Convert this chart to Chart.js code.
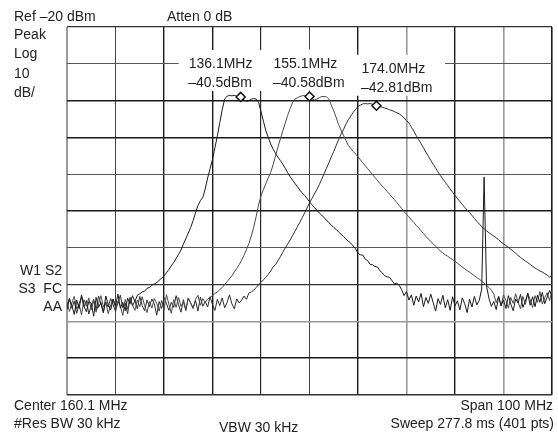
<!DOCTYPE html>
<html>
<head>
<meta charset="utf-8">
<script src="https://cdn.jsdelivr.net/npm/chart.js@4.4.0/dist/chart.umd.min.js"></script>
<style>
  html, body { margin: 0; padding: 0; background: #fff; }
</style>
</head>
<body>
<canvas id="chart" width="558" height="436"></canvas>
<script>
// sweep points, 0.5 MHz apart (center 160.1 MHz, span 100 MHz)
const sweepMHz = [
  110.1,110.6,111.1,111.6,112.1,112.6,113.1,113.6,114.1,114.6,
  115.1,115.6,116.1,116.6,117.1,117.6,118.1,118.6,119.1,119.6,
  120.1,120.6,121.1,121.6,122.1,122.6,123.1,123.6,124.1,124.6,
  125.1,125.6,126.1,126.6,127.1,127.6,128.1,128.6,129.1,129.6,
  130.1,130.6,131.1,131.6,132.1,132.6,133.1,133.6,134.1,134.6,
  135.1,135.6,136.1,136.6,137.1,137.6,138.1,138.6,139.1,139.6,
  140.1,140.6,141.1,141.6,142.1,142.6,143.1,143.6,144.1,144.6,
  145.1,145.6,146.1,146.6,147.1,147.6,148.1,148.6,149.1,149.6,
  150.1,150.6,151.1,151.6,152.1,152.6,153.1,153.6,154.1,154.6,
  155.1,155.6,156.1,156.6,157.1,157.6,158.1,158.6,159.1,159.6,
  160.1,160.6,161.1,161.6,162.1,162.6,163.1,163.6,164.1,164.6,
  165.1,165.6,166.1,166.6,167.1,167.6,168.1,168.6,169.1,169.6,
  170.1,170.6,171.1,171.6,172.1,172.6,173.1,173.6,174.1,174.6,
  175.1,175.6,176.1,176.6,177.1,177.6,178.1,178.6,179.1,179.6,
  180.1,180.6,181.1,181.6,182.1,182.6,183.1,183.6,184.1,184.6,
  185.1,185.6,186.1,186.6,187.1,187.6,188.1,188.6,189.1,189.6,
  190.1,190.6,191.1,191.6,192.1,192.6,193.1,193.6,194.1,194.6,
  195.1,195.6,196.1,196.6,197.1,197.6,198.1,198.6,199.1,199.6,
  200.1,200.6,201.1,201.6,202.1,202.6,203.1,203.6,204.1,204.6,
  205.1,205.6,206.1,206.6,207.1,207.6,208.1,208.6,209.1,209.6,
  210.1
];

// dBm, left filter
const traceA = [
  -96.8,-93.9,-95.7,-98.1,-94.2,-96.5,-92.8,-95.9,-97.4,-94.6,
  -95.1,-98.6,-93.5,-96.2,-94.9,-97.7,-93.1,-95.4,-96.9,-94.0,
  -95.8,-92.6,-96.4,-94.8,-97.1,-93.7,-95.2,-93.0,-94.6,-92.9,
  -92.5,-92.0,-91.8,-91.0,-90.8,-90.2,-89.8,-89.5,-88.8,-88.3,
  -87.6,-86.8,-85.9,-84.9,-84.0,-82.9,-81.8,-80.6,-79.0,-77.5,
  -76.0,-74.5,-72.6,-70.5,-68.5,-67.2,-66.3,-64.0,-61.0,-58.5,
  -56.0,-52.8,-49.6,-46.0,-42.5,-39.6,-38.8,-38.6,-38.7,-38.6,
  -38.8,-39.2,-39.4,-39.8,-40.2,-40.0,-39.6,-39.4,-39.6,-40.5,
  -43.0,-45.6,-48.2,-50.0,-51.8,-53.2,-54.4,-55.4,-56.3,-57.3,
  -58.4,-59.6,-60.7,-61.6,-62.5,-63.4,-64.3,-65.1,-65.8,-66.6,
  -67.5,-68.3,-69.0,-69.8,-70.5,-71.1,-71.8,-72.5,-73.2,-73.8,
  -74.5,-75.0,-75.7,-76.3,-76.9,-77.6,-78.2,-78.7,-79.5,-80.3,
  -81.5,-81.9,-82.0,-83.1,-83.5,-84.5,-84.6,-85.1,-85.2,-86.2,
  -86.8,-87.6,-87.9,-88.0,-88.9,-89.8,-89.6,-90.2,-91.4,-93.0,
  -91.9,-94.2,-92.8,-95.6,-93.1,-94.7,-92.4,-96.0,-93.5,-95.1,
  -92.6,-94.9,-97.2,-93.8,-95.4,-92.9,-96.3,-94.1,-97.0,-93.3,
  -95.8,-94.4,-96.9,-93.6,-95.2,-97.6,-94.0,-96.1,-93.2,-95.5,
  -94.3,-91.2,-60.8,-90.4,-93.7,-95.9,-94.6,-96.8,-93.4,-95.7,
  -94.2,-96.5,-93.0,-95.3,-97.1,-93.9,-95.0,-92.7,-96.2,-94.5,
  -92.4,-95.6,-93.3,-96.0,-92.9,-94.8,-92.1,-95.2,-93.4,-91.6,
  -93.0
];

// dBm, middle filter
const traceB = [
  -94.7,-97.3,-95.0,-93.2,-96.6,-95.4,-98.2,-94.1,-95.9,-93.6,
  -96.8,-94.4,-97.5,-95.2,-93.0,-96.1,-94.8,-97.9,-95.6,-93.9,
  -96.3,-94.5,-95.8,-98.4,-94.0,-96.7,-93.4,-95.5,-97.0,-94.2,
  -96.0,-93.3,-95.7,-97.6,-94.6,-96.4,-93.8,-95.1,-97.2,-94.3,
  -96.9,-92.7,-95.3,-97.8,-94.1,-96.2,-93.5,-95.9,-94.7,-97.1,
  -93.6,-95.0,-96.5,-94.0,-92.9,-95.6,-93.8,-94.9,-93.9,-93.5,
  -93.0,-92.4,-92.0,-91.4,-90.8,-90.0,-89.2,-88.4,-87.6,-86.6,
  -85.6,-84.6,-83.4,-82.0,-80.5,-78.8,-76.8,-74.4,-71.5,-68.3,
  -65.9,-64.2,-62.5,-61.0,-59.5,-57.4,-55.0,-52.6,-50.4,-48.2,
  -46.1,-44.0,-42.2,-40.6,-39.6,-39.2,-38.9,-38.7,-38.6,-38.8,
  -39.1,-39.5,-39.8,-39.6,-39.2,-38.9,-38.9,-39.0,-39.6,-41.2,
  -42.8,-44.6,-46.5,-48.0,-49.4,-50.8,-52.2,-53.0,-53.8,-54.5,
  -55.3,-56.1,-56.9,-57.7,-58.5,-59.3,-60.1,-60.9,-61.7,-62.5,
  -63.2,-63.9,-64.7,-65.4,-66.2,-66.9,-67.7,-68.5,-69.3,-70.2,
  -70.9,-71.6,-72.4,-73.1,-73.9,-74.6,-75.4,-76.1,-76.9,-77.6,
  -78.3,-78.9,-79.6,-80.2,-80.9,-81.4,-81.9,-82.3,-82.8,-83.2,
  -83.7,-84.2,-84.7,-85.2,-85.7,-86.2,-86.6,-87.1,-87.6,-88.1,
  -88.5,-89.1,-89.6,-90.2,-90.8,-91.5,-92.6,-94.9,-93.1,-95.8,
  -92.8,-94.3,-96.4,-93.5,-95.1,-92.5,-94.7,-96.6,-93.2,-95.4,
  -92.3,-94.1,-96.2,-93.0,-94.8,-91.9,-95.3,-93.6,-92.2,-94.4,
  -91.5
];

// dBm, right filter
const traceC = [
  -95.9,-93.7,-96.4,-94.5,-97.8,-95.1,-93.4,-96.0,-94.3,-98.0,
  -95.6,-94.0,-96.9,-93.1,-95.3,-97.4,-94.7,-96.1,-93.8,-95.4,
  -97.3,-94.9,-92.9,-96.3,-95.0,-97.9,-93.6,-95.8,-94.4,-96.6,
  -93.2,-95.7,-97.1,-94.2,-96.0,-93.9,-95.2,-98.3,-94.6,-96.5,
  -93.5,-95.1,-97.0,-94.8,-96.2,-93.0,-95.5,-97.5,-94.1,-96.8,
  -93.7,-95.0,-96.4,-94.3,-97.2,-93.4,-95.9,-94.6,-96.1,-93.3,
  -95.4,-97.0,-94.0,-95.7,-93.6,-96.3,-94.9,-92.8,-95.2,-96.6,
  -93.9,-95.0,-94.2,-93.1,-94.0,-92.3,-92.0,-91.5,-90.8,-90.0,
  -89.4,-88.7,-88.0,-87.2,-86.3,-85.2,-84.6,-83.5,-82.4,-81.2,
  -80.0,-79.0,-77.9,-76.7,-75.5,-74.3,-73.1,-71.8,-70.5,-69.2,
  -67.8,-66.6,-65.4,-64.2,-62.9,-61.4,-59.9,-58.4,-56.9,-55.3,
  -53.8,-52.2,-50.6,-49.1,-47.9,-46.4,-45.2,-44.2,-43.2,-42.4,
  -41.6,-41.2,-40.9,-40.8,-40.9,-40.8,-41.0,-41.3,-41.5,-41.6,
  -41.8,-42.0,-42.2,-42.5,-42.7,-43.0,-43.3,-43.6,-44.1,-44.7,
  -45.4,-46.1,-47.2,-48.3,-49.5,-50.6,-51.7,-52.8,-54.0,-55.1,
  -56.2,-57.3,-58.3,-59.4,-60.4,-61.3,-62.2,-63.1,-64.0,-64.9,
  -65.8,-66.6,-67.4,-68.2,-69.0,-69.8,-70.4,-71.2,-72.0,-72.8,
  -73.5,-74.3,-74.8,-75.4,-75.9,-76.4,-76.8,-77.3,-77.8,-78.5,
  -78.9,-79.4,-79.9,-80.4,-80.9,-81.5,-82.1,-82.6,-83.1,-83.6,
  -84.0,-84.5,-85.0,-85.5,-85.9,-86.3,-86.6,-87.0,-87.4,-88.0,
  -87.5
];

const gridMHz = [110.1, 120.1, 130.1, 140.1, 150.1, 160.1, 170.1, 180.1, 190.1, 200.1, 210.1];

const markerMHz = [145.9, 160.1, 173.9];
const markerDbm = [-39.0, -38.9, -41.4];
const markerFreqText = ["136.1MHz", "155.1MHz", "174.0MHz"];
const markerLevelText = ["\u201340.5dBm", "\u201340.58dBm", "\u201342.81dBm"];

const FONT = '14px "Liberation Sans", Arial, sans-serif';
const INK = "#222";

// grid styling per tick index (the screen capture has uneven line weights)
const xGridColor = ["#9a9a9a", "#444", "#1a1a1a", "#1a1a1a", "#2a2a2a", "#444", "#1a1a1a", "#9a9a9a", "#1a1a1a", "#9a9a9a", "#1a1a1a"];
const xGridWidth = [2, 1, 1.4, 1.4, 1.2, 1, 1.4, 1.6, 1.4, 1.6, 1.6];
const yGridColor = ["#333", "#1a1a1a", "#999", "#333", "#555", "#1a1a1a", "#555", "#1a1a1a", "#1a1a1a", "#555", "#333"];
const yGridWidth = [1.4, 1.6, 1.6, 1.3, 1, 1.6, 1, 1.6, 1.6, 1, 1.3];

// where each marker readout sits relative to its diamond
const labelOffsets = [
  { dx: -52, dy1: -29, dy2: -10 },
  { dx: -36, dy1: -29, dy2: -10 },
  { dx: -15, dy1: -33, dy2: -14 }
];

const toPoints = (levels) => levels.map((v, i) => ({ x: sweepMHz[i], y: v }));

const screenText = {
  id: "screenText",
  beforeDatasetsDraw(chart) {
    const { ctx, scales: { x, y } } = chart;
    ctx.save();
    ctx.font = FONT;
    markerMHz.forEach((mhz, i) => {
      const px = x.getPixelForValue(mhz);
      const py = y.getPixelForValue(markerDbm[i]);
      const o = labelOffsets[i];
      const w = Math.max(
        ctx.measureText(markerFreqText[i]).width,
        ctx.measureText(markerLevelText[i]).width
      );
      ctx.fillStyle = "#fff";
      ctx.fillRect(px + o.dx - 10, py + o.dy1 - 18, w + 22, o.dy2 - o.dy1 + 22);
      ctx.fillStyle = INK;
      ctx.textAlign = "left";
      ctx.textBaseline = "alphabetic";
      ctx.fillText(markerFreqText[i], px + o.dx, py + o.dy1);
      ctx.fillText(markerLevelText[i], px + o.dx - 0.5, py + o.dy2);
    });
    ctx.restore();
  },
  afterDraw(chart) {
    const ctx = chart.ctx;
    ctx.save();
    ctx.font = FONT;
    ctx.fillStyle = INK;
    ctx.textBaseline = "alphabetic";
    ctx.textAlign = "left";
    ctx.fillText("Ref \u201320 dBm", 14, 21);
    ctx.fillText("Atten 0 dB", 167, 21);
    ctx.fillText("Peak", 14, 39);
    ctx.fillText("Log", 14, 58);
    ctx.fillText("10", 14, 78);
    ctx.fillText("dB/", 14, 97);
    ctx.fillText("Center 160.1 MHz", 14, 410);
    ctx.fillText("#Res BW 30 kHz", 14, 428);
    ctx.fillText("VBW 30 kHz", 219, 432);
    ctx.textAlign = "right";
    ctx.fillText("W1 S2", 62, 275);
    ctx.fillText("S3  FC", 62, 293);
    ctx.fillText("AA", 62, 311);
    ctx.fillText("Span 100 MHz", 553, 410);
    ctx.fillText("Sweep 277.8 ms (401 pts)", 554, 428);
    ctx.restore();
  }
};

new Chart(document.getElementById("chart"), {
  type: "line",
  data: {
    datasets: [
      {
        label: "markers",
        type: "scatter",
        data: markerMHz.map((v, i) => ({ x: v, y: markerDbm[i] })),
        pointStyle: "rectRot",
        pointRadius: 4.5,
        pointBorderWidth: 1.5,
        pointBackgroundColor: "#fff",
        pointBorderColor: "#111",
        order: 0
      },
      { label: "A", data: toPoints(traceA), borderColor: "#1a1a1a", borderWidth: 1, order: 1 },
      { label: "B", data: toPoints(traceB), borderColor: "#4a4a4a", borderWidth: 1, order: 1 },
      { label: "C", data: toPoints(traceC), borderColor: "#2e2e2e", borderWidth: 1, order: 1 }
    ]
  },
  options: {
    responsive: false,
    animation: false,
    layout: { padding: { left: 67, right: 6, top: 27, bottom: 41 } },
    elements: {
      point: { radius: 0 },
      line: { tension: 0, fill: false }
    },
    plugins: {
      legend: { display: false },
      tooltip: { enabled: false }
    },
    scales: {
      x: {
        type: "linear",
        min: 110.1,
        max: 210.1,
        afterBuildTicks: (scale) => {
          scale.ticks = gridMHz.map((v) => ({ value: v }));
        },
        ticks: { display: false },
        border: { display: false },
        grid: {
          drawTicks: false,
          color: (c) => xGridColor[c.index] || "#222",
          lineWidth: (c) => xGridWidth[c.index] || 1
        }
      },
      y: {
        min: -120,
        max: -20,
        ticks: { display: false, stepSize: 10 },
        border: { display: false },
        grid: {
          drawTicks: false,
          color: (c) => yGridColor[c.index] || "#222",
          lineWidth: (c) => yGridWidth[c.index] || 1
        }
      }
    }
  },
  plugins: [screenText]
});
</script>
</body>
</html>
